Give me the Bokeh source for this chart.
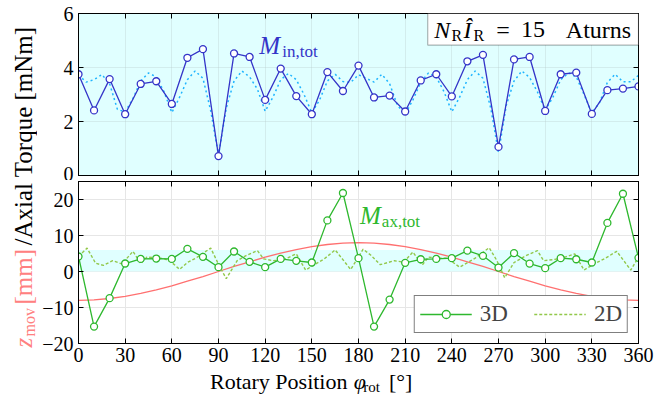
import math
from bokeh.plotting import figure
from bokeh.layouts import row, column
from bokeh.models import (Range1d, LinearAxis, FixedTicker, Label, BoxAnnotation,
                          Legend, LegendItem, ColumnDataSource)
from bokeh.core.properties import value
from bokeh.embed import file_html
from bokeh.resources import INLINE

FONT = "Liberation Serif"

# ---------------- data ----------------
x_ticks = [0, 30, 60, 90, 120, 150, 180, 210, 240, 270, 300, 330, 360]
top_y_ticks = [0, 2, 4, 6]
bot_y_ticks = [-20, -10, 0, 10, 20]

phi_3d = [0, 10, 20, 30, 40, 50, 60, 70, 80, 90,
          100, 110, 120, 130, 140, 150, 160, 170, 180, 190,
          200, 210, 220, 230, 240, 250, 260, 270, 280, 290,
          300, 310, 320, 330, 340, 350, 360]
m_in_3d = [3.75, 2.41, 3.57, 2.27, 3.39, 3.49, 2.65, 4.36, 4.68, 0.72,
           4.52, 4.39, 2.80, 3.96, 2.94, 2.27, 3.83, 3.13, 4.07, 2.89,
           2.96, 2.37, 3.52, 3.75, 2.93, 4.23, 4.47, 1.06, 4.30, 4.39,
           2.39, 3.75, 3.81, 2.28, 3.16, 3.22, 3.30]
m_ax_3d = [4.17, -15.3, -7.4, 2.22, 3.5, 3.6, 3.5, 6.3, 4.07, 1.2,
           5.56, 2.69, 1.2, 3.5, 2.96, 2.5, 14.2, 21.8, 3.7, -15.3,
           -7.8, 2.4, 3.4, 3.5, 3.7, 5.8, 4.35, 1.1, 5.1, 2.2,
           0.93, 3.7, 3.4, 2.5, 13.5, 21.6, 3.8]

phi_in_2d = list(range(0, 361, 5))
m_in_2d = [3.72, 3.46, 3.55, 3.74, 3.40, 2.45, 2.35, 2.85, 3.50, 3.80,
           3.65, 3.10, 2.33, 2.90, 3.55, 3.87, 3.60, 2.40, 0.75, 2.50,
           3.50, 3.87, 3.65, 3.20, 2.38, 2.90, 3.55, 3.78, 3.55, 3.00,
           2.32, 2.80, 3.50, 3.75, 3.48, 3.45, 3.73, 3.60, 3.46, 3.75,
           3.40, 2.60, 2.28, 2.80, 3.45, 3.80, 3.65, 3.10, 2.36, 2.90,
           3.55, 3.87, 3.60, 2.50, 0.85, 2.60, 3.50, 3.87, 3.63, 3.10,
           2.42, 2.90, 3.55, 3.80, 3.65, 3.00, 2.32, 2.70, 3.45, 3.75,
           3.47, 3.47, 3.71]

phi_ax_2d = [0, 5.5, 11, 16, 22, 28, 35, 40, 44, 50,
             55, 60, 65, 70, 75, 85, 90, 95, 102, 108,
             115, 119, 125, 132, 140, 146, 152, 158, 165, 175,
             183, 188, 194, 203, 209, 215, 221, 225, 230, 237,
             245, 255, 264, 269, 274, 280, 288, 295, 299, 305,
             310, 319, 325, 331, 338, 346, 355, 360]
m_ax_2d = [4.2, 6.5, 2.3, 1.7, 3.0, 2.1, 5.6, 2.2, 4.0, 3.8,
           3.6, 2.5, 0.6, 2.5, 3.6, 6.5, 2.0, -2.0, 3.0, 4.5,
           5.8, 3.5, 3.0, 3.3, 4.9, 0.4, 2.0, 3.5, 6.0, 0.55,
           6.2, 4.5, 1.9, 3.0, 2.6, 5.4, 1.8, 4.0, 3.7, 3.7,
           1.2, 3.7, 6.6, 3.0, -1.75, 2.5, 4.5, 5.8, 3.0, 3.3,
           3.6, 4.9, 0.4, 2.0, 3.5, 5.6, 0.4, 4.0]

phi_z = phi_3d
z_mov = [-8.0, -7.9, -7.5, -6.9, -6.1, -5.1, -4.0, -2.7, -1.4, 0.0,
         1.4, 2.7, 4.0, 5.1, 6.1, 6.9, 7.5, 7.9, 8.0, 7.9,
         7.5, 6.9, 6.1, 5.1, 4.0, 2.7, 1.4, 0.0, -1.4, -2.7,
         -4.0, -5.1, -6.1, -6.9, -7.5, -7.9, -8.0]

top_range = (0, 6)
bot_range = (-20, 25)

# ---------------- colours ----------------
BLUE = "#3434c8"
CYAN = "#1eb4ff"
GREEN = "#2eb82e"
OLIVE = "#92c84a"
RED = "#ff7070"
SALMON = "#ff8080"
LIGHTCYAN = "#e0ffff"

STRIP_W = 37
MAIN_W = 672 - STRIP_W
FRAME_H = 162
MID = 0.3375          # baseline offset of a middle-anchored text, in em

xr = Range1d(0, 360)


def style_axis(ax, ticks, labels):
    ax.ticker = FixedTicker(ticks=ticks)
    ax.axis_line_color = "black"
    ax.axis_line_width = 1
    ax.major_tick_in = 5
    ax.major_tick_out = 0
    ax.minor_tick_in = 0
    ax.minor_tick_out = 0
    ax.major_tick_line_color = "black"
    ax.major_tick_line_width = 1
    ax.major_label_text_font = FONT
    ax.major_label_text_color = "black"
    if labels:
        ax.major_label_text_font_size = "20px"
    else:
        ax.major_label_overrides = {t: "" for t in ticks}
        ax.major_label_text_font_size = "1px"
        ax.major_label_standoff = 0


def make_panel(height, yr, yticks, bg, mb_top, mb_bottom, xlabels):
    p = figure(width=MAIN_W, height=height, x_range=xr, y_range=Range1d(*yr),
               toolbar_location=None, output_backend="svg",
               min_border_left=78 - STRIP_W, min_border_right=34,
               min_border_top=mb_top, min_border_bottom=mb_bottom,
               background_fill_color=bg, border_fill_color="white",
               outline_line_color="black", outline_line_width=1)
    style_axis(p.xaxis[0], x_ticks, xlabels)
    if xlabels:
        p.xaxis[0].major_label_standoff = 4
    style_axis(p.yaxis[0], yticks, True)
    p.yaxis[0].major_label_standoff = 5
    ax_top = LinearAxis()
    style_axis(ax_top, x_ticks, False)
    p.add_layout(ax_top, "above")
    ax_r = LinearAxis()
    style_axis(ax_r, yticks, False)
    p.add_layout(ax_r, "right")
    p.xgrid.ticker = FixedTicker(ticks=x_ticks)
    p.ygrid.ticker = FixedTicker(ticks=yticks)
    return p


def lab(p, ppu, x, y, text, size, color="black", style="normal", align="left"):
    """Label whose baseline sits at data y (middle anchor shifted up)."""
    p.add_layout(Label(x=x, y=y + MID * size / ppu, text=text, text_font=FONT,
                       text_font_size=f"{size}px", text_color=color,
                       text_font_style=style, text_align=align,
                       text_baseline="middle"))


def tx(p, x, y, text, size, color="black", style="normal", rotated=False, align="left"):
    """Text in a strip whose data units are page pixels; (x, y) is the baseline start."""
    if rotated:
        x = x - MID * size
        angle = math.pi / 2
    else:
        y = y - MID * size
        angle = 0.0
    p.text(x=[x], y=[y], text=[text], text_font=value(FONT),
           text_font_size=value(f"{size}px"), text_color=color,
           text_font_style=value(style), angle=angle,
           text_align=value(align), text_baseline=value("middle"))


# ---------------- top panel ----------------
top = make_panel(180, top_range, top_y_ticks, LIGHTCYAN, 13, 5, False)
top.grid.grid_line_color = "#b8cccc"
top.grid.grid_line_alpha = 0.35
ppu_top = FRAME_H / (top_range[1] - top_range[0])

src_in3 = ColumnDataSource(dict(x=phi_3d, y=m_in_3d))
src_in2 = ColumnDataSource(dict(x=phi_in_2d, y=m_in_2d))
top.line("x", "y", source=src_in2, line_color=CYAN, line_width=1.5, line_dash="2 3")
top.line("x", "y", source=src_in3, line_color=BLUE, line_width=1.3)
top.scatter("x", "y", source=src_in3, size=7, fill_color="white",
            line_color=BLUE, line_width=1.3)

lab(top, ppu_top, 116.2, 4.49, "M", 25, BLUE, "italic")
lab(top, ppu_top, 131.0, 4.38, "in,tot", 17, BLUE)

top.add_layout(BoxAnnotation(left=224.5, right=360, bottom=4.83, top=6,
                             fill_color="white", fill_alpha=1,
                             line_color="black", line_width=1.2))
lab(top, ppu_top, 228.7, 5.10, "N", 24, "black", "italic")
lab(top, ppu_top, 239.8, 4.97, "R", 16)
lab(top, ppu_top, 247.5, 5.10, "Î", 24, "black", "italic")
lab(top, ppu_top, 254.0, 4.97, "R", 16)
lab(top, ppu_top, 268.5, 5.10, "=", 24)
lab(top, ppu_top, 284.5, 5.10, "15", 24)
lab(top, ppu_top, 355.3, 5.10, "Aturns", 24, align="right")

# ---------------- bottom panel ----------------
bot = make_panel(190, bot_range, bot_y_ticks, "white", 1, 27, True)
bot.grid.grid_line_color = "#e6e6e6"
bot.grid.grid_line_alpha = 1.0
ppu_bot = FRAME_H / (bot_range[1] - bot_range[0])
bot.add_layout(BoxAnnotation(bottom=top_range[0], top=top_range[1],
                             fill_color=LIGHTCYAN, fill_alpha=1,
                             line_alpha=0, level="underlay"))

src_z = ColumnDataSource(dict(x=phi_z, y=z_mov))
src_ax3 = ColumnDataSource(dict(x=phi_3d, y=m_ax_3d))
src_ax2 = ColumnDataSource(dict(x=phi_ax_2d, y=m_ax_2d))
bot.line("x", "y", source=src_z, line_color=RED, line_width=1.3)
r_ax2 = bot.line("x", "y", source=src_ax2, line_color=OLIVE, line_width=1.4, line_dash="3 2")
r_ax3 = bot.line("x", "y", source=src_ax3, line_color=GREEN, line_width=1.3)
s_ax3 = bot.scatter("x", "y", source=src_ax3, size=7, fill_color="white",
                    line_color=GREEN, line_width=1.3)

lab(bot, ppu_bot, 181.0, 13.3, "M", 25, GREEN, "italic")
lab(bot, ppu_bot, 195.0, 12.2, "ax,tot", 17, GREEN)

legend = Legend(items=[LegendItem(label="3D", renderers=[r_ax3, s_ax3]),
                       LegendItem(label="2D", renderers=[r_ax2])],
                location="bottom_right", orientation="horizontal",
                label_text_font=FONT, label_text_font_size="23px",
                glyph_width=52, glyph_height=20, label_standoff=8,
                spacing=26, padding=5, margin=10,
                border_line_color="black", border_line_width=1,
                background_fill_color="white", background_fill_alpha=1)
bot.add_layout(legend)

# ---------------- axis titles (text-only strips, data units = page pixels) ----------------
xt = figure(width=MAIN_W, height=32, x_range=Range1d(STRIP_W, 672), y_range=Range1d(402, 370),
            toolbar_location=None, output_backend="svg", x_axis_type=None,
            y_axis_type=None, min_border=0, outline_line_color=None)
xt.grid.visible = False
tx(xt, 342, 388, "Rotary Position", 22, align="right")
tx(xt, 349, 388, "φ", 22, "black", "italic")
tx(xt, 360, 392, "rot", 15)
tx(xt, 389, 388, "[°]", 22)

yt = figure(width=STRIP_W, height=402, x_range=Range1d(0, STRIP_W), y_range=Range1d(402, 0),
            toolbar_location=None, output_backend="svg", x_axis_type=None,
            y_axis_type=None, min_border=0, outline_line_color=None)
yt.grid.visible = False
tx(yt, 31, 347, "z", 25, SALMON, "italic", True)
tx(yt, 34, 336, "mov", 16, SALMON, "normal", True)
tx(yt, 31, 304, "[mm]", 25, SALMON, "normal", True)
tx(yt, 31, 245, "/Axial Torque [mNm]", 25, "black", "normal", True)

layout = row(yt, column(top, bot, xt))

with open("out.html", "w") as f:
    f.write(file_html(layout, INLINE))
